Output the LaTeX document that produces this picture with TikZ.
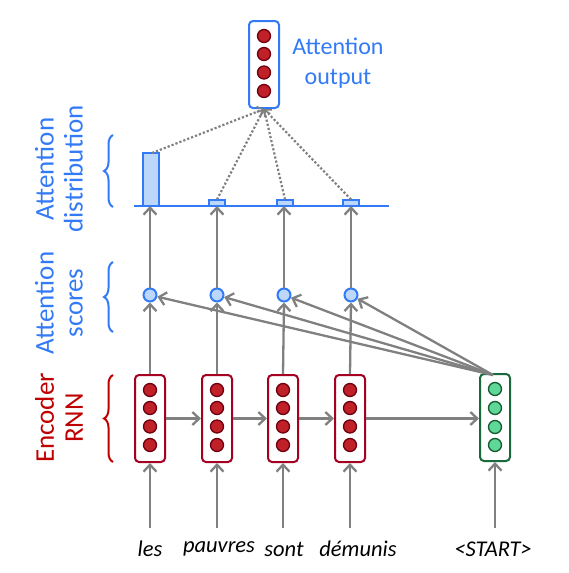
\documentclass[tikz,border=0pt]{standalone}
\usepackage{fontspec}
\setmainfont{Carlito}
\usetikzlibrary{arrows.meta,decorations.pathreplacing}
\definecolor{ablue}{RGB}{51,122,246}
\definecolor{lblue}{RGB}{189,215,250}
\definecolor{boxred}{RGB}{165,0,33}
\definecolor{cred}{RGB}{192,32,40}
\definecolor{cdark}{RGB}{110,0,15}
\definecolor{tred}{RGB}{192,0,0}
\definecolor{gbox}{RGB}{25,105,60}
\definecolor{gfill}{RGB}{95,215,150}
\definecolor{gdark}{RGB}{20,90,50}
\definecolor{agray}{RGB}{128,128,128}
\tikzset{
  vecbox/.style={draw, line width=2pt, rounded corners=4pt, minimum width=30pt, minimum height=87pt, inner sep=0pt, fill=white},
  redbox/.style={vecbox, draw=boxred},
  greenbox/.style={vecbox, draw=gbox},
  bluebox/.style={vecbox, draw=ablue},
  redunit/.style={circle, draw=cdark, fill=cred, line width=1.3pt, minimum size=13pt, inner sep=0pt},
  greenunit/.style={circle, draw=gdark, fill=gfill, line width=1.3pt, minimum size=13pt, inner sep=0pt},
  score/.style={circle, draw=ablue, fill=lblue, line width=2pt, minimum size=13pt, inner sep=0pt},
  conn/.style={draw=agray, line width=2.3pt, -{Straight Barb[length=7pt,width=13pt,line width=2.3pt]}},
  dotconn/.style={draw=agray, line width=2.2pt, dotted, -{Straight Barb[length=5pt,width=10pt,line width=1.5pt]}},
  bar/.style={draw=ablue, fill=lblue, line width=2pt},
  lbl/.style={font=\fontsize{27pt}{29pt}\selectfont, align=center, rotate=90, inner sep=0pt},
  word/.style={font=\fontsize{22.5pt}{26pt}\selectfont\itshape, inner sep=0pt},
  bracedec/.style={decorate, decoration={brace, amplitude=9pt}, line width=2pt}
}
\begin{document}
\begin{tikzpicture}[x=1pt,y=-1pt]
\useasboundingbox (0,0) rectangle (568,573);
% encoder boxes
\foreach \n/\x in {1/150,2/217,3/283,4/350}{
  \node[redbox] (e\n) at (\x,418.5) {};
  \foreach \k/\y in {1/390,2/408,3/426.5,4/445}{
    \node[redunit] (e\n u\k) at (\x,\y) {};
  }
}
% decoder box
\node[greenbox] (d) at (495,417.5) {};
\foreach \k/\y in {1/389,2/408,3/427,4/445}{
  \node[greenunit] (du\k) at (495,\y) {};
}
% output box
\node[bluebox] (o) at (264,64.5) {};
\foreach \k/\y in {1/36,2/54,3/72.5,4/91}{
  \node[redunit] (ou\k) at (264,\y) {};
}
% score circles
\foreach \n/\x in {1/150,2/217,3/284,4/351}{
  \node[score] (s\n) at (\x,295) {};
  \coordinate (b\n) at (\x,206);
}
% distribution baseline and bars
\coordinate (bl) at (134,206);
\coordinate (br) at (389,206);
\draw[ablue, line width=2pt] (bl) -- (br);
\draw[bar] (143,206) rectangle (159,153);
\coordinate (t1) at (152,153);
\foreach \n/\x in {2/217,3/285,4/351}{
  \draw[bar] (\x-8,206) rectangle (\x+8,199.5);
  \coordinate (t\n) at (\x,199.5);
}
% bottom words
\node[word] (w1) at (150,549) {les};
\node[word] (w2) at (219,549) {pauvres};
\node[word] (w3) at (284,549) {sont};
\node[word] (w4) at (358,549) {démunis};
\node[word] (w5) at (493,549) {<START>};
\foreach \n/\x in {1/150,2/217,3/283,4/350}{
  \coordinate (i\n) at (\x,528);
  \draw[conn] (i\n) -- (e\n.south);
}
\coordinate (i5) at (495,528);
\draw[conn] (i5) -- (d.south);
% horizontal RNN arrows
\draw[conn] (e1.east) -- (e2.west);
\draw[conn] (e2.east) -- (e3.west);
\draw[conn] (e3.east) -- (e4.west);
\draw[conn] (e4.east) -- (e4.east -| d.west);
% encoder to scores
\foreach \n in {1,2,3,4}{
  \draw[conn] (e\n.north) -- (s\n.south);
  \draw[conn] (s\n.north) -- (b\n);
}
% decoder to scores
\coordinate (dt) at (493,375);
\foreach \n in {1,2,3,4}{
  \draw[conn] (dt) -- (s\n);
}
% dotted to output
\foreach \n in {1,2,3,4}{
  \draw[dotconn] (t\n) -- (o.south);
}
% labels
\node[lbl, text=ablue] (ld) at (59,169) {Attention\\distribution};
\node[lbl, text=ablue] (ls) at (59,303) {Attention\\scores};
\node[lbl, text=tred] (le) at (59,418) {Encoder\\RNN};
\node[font=\fontsize{24pt}{30pt}\selectfont, align=center, text=ablue, inner sep=0pt] (lo) at (338,63) {Attention\\output};
% braces
\draw[bracedec, ablue] (113,207) -- (113,135);
\draw[bracedec, ablue] (113,332) -- (113,262);
\draw[bracedec, tred] (113,462) -- (113,375);
\end{tikzpicture}
\end{document}
